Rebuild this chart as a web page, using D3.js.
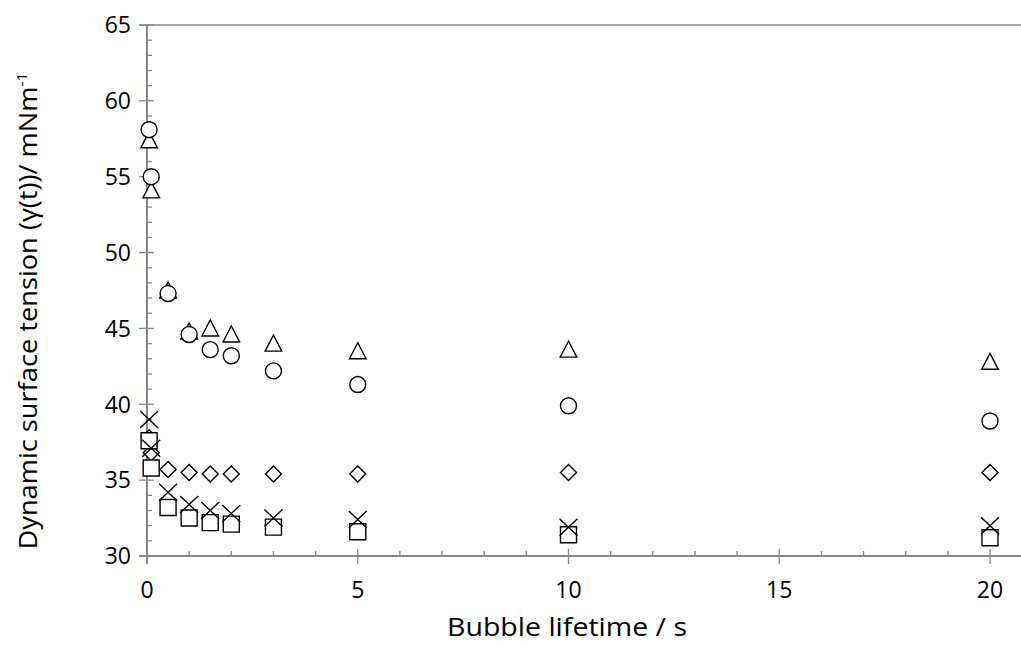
<!DOCTYPE html>
<html>
<head>
<meta charset="utf-8">
<script src="https://cdn.jsdelivr.net/npm/d3@7"></script>
<style>
  body { margin: 0; background: #fff; }
  svg { display: block; }
  text { font-family: "Open Sans", sans-serif; fill: #000; }
</style>
</head>
<body>
<svg width="1021" height="647"></svg>
<script>
// bubble lifetime (s) for each measurement
var times = [0.05, 0.1, 0.5, 1, 1.5, 2, 3, 5, 10, 20];

// surface tension, one array per marker type
var diamondVals  = [37.8, 36.8, 35.7, 35.5, 35.4, 35.4, 35.4, 35.4, 35.5, 35.5];
var squareVals   = [37.6, 35.8, 33.2, 32.5, 32.2, 32.1, 31.9, 31.6, 31.4, 31.2];
var triangleVals = [57.4, 54.1, 47.5, 44.8, 45.0, 44.6, 44.0, 43.5, 43.6, 42.8];
var crossVals    = [39.0, 37.1, 34.2, 33.4, 33.0, 32.8, 32.5, 32.4, 31.9, 32.0];
var circleVals   = [58.1, 55.0, 47.3, 44.6, 43.6, 43.2, 42.2, 41.3, 39.9, 38.9];

var xTicks = [0, 5, 10, 15, 20];
var yTicks = [30, 35, 40, 45, 50, 55, 60, 65];

var series = [
  {shape: "diamond", values: diamondVals},
  {shape: "square", values: squareVals},
  {shape: "triangle", values: triangleVals},
  {shape: "cross", values: crossVals},
  {shape: "circle", values: circleVals}
];

var svg = d3.select("svg"),
    W = +svg.attr("width"),
    axisColor = "#868686";

var x = d3.scaleLinear().domain([0, 20]).range([147, 990]);
var y = d3.scaleLinear().domain([30, 65]).range([556, 25]);

// minor ticks every 1 unit (inside), major ticks cross the axis
var gx = svg.append("g");
gx.selectAll("line.minor")
  .data(d3.range(0, 21).filter(v => v % 5 !== 0))
  .enter().append("line")
    .attr("x1", d => x(d)).attr("x2", d => x(d))
    .attr("y1", y(30)).attr("y2", y(30) - 5)
    .attr("stroke", axisColor).attr("stroke-width", 1.3);
gx.selectAll("line.major")
  .data(xTicks)
  .enter().append("line")
    .attr("x1", d => x(d)).attr("x2", d => x(d))
    .attr("y1", y(30) - 7).attr("y2", y(30) + 8)
    .attr("stroke", axisColor).attr("stroke-width", 1.3);
gx.append("line")
  .attr("x1", x(0) - 8).attr("x2", W)
  .attr("y1", y(30)).attr("y2", y(30))
  .attr("stroke", axisColor).attr("stroke-width", 2);
gx.selectAll("text")
  .data(xTicks)
  .enter().append("text")
    .attr("x", d => x(d))
    .attr("y", 598)
    .attr("text-anchor", "middle")
    .attr("font-size", 23)
    .text(d => d);

var gy = svg.append("g");
gy.selectAll("line.minor")
  .data(d3.range(30, 66).filter(v => v % 5 !== 0))
  .enter().append("line")
    .attr("x1", x(0)).attr("x2", x(0) + 5)
    .attr("y1", d => y(d)).attr("y2", d => y(d))
    .attr("stroke", axisColor).attr("stroke-width", 1.3);
gy.selectAll("line.major")
  .data(yTicks)
  .enter().append("line")
    .attr("x1", x(0) - 8).attr("x2", x(0) + 7)
    .attr("y1", d => y(d)).attr("y2", d => y(d))
    .attr("stroke", axisColor).attr("stroke-width", 1.3);
gy.append("line")
  .attr("x1", x(0)).attr("x2", x(0))
  .attr("y1", y(65)).attr("y2", y(30) + 8)
  .attr("stroke", axisColor).attr("stroke-width", 2);
// top border line at 65
gy.append("line")
  .attr("x1", x(0) - 8).attr("x2", W)
  .attr("y1", y(65)).attr("y2", y(65))
  .attr("stroke", axisColor).attr("stroke-width", 1.3);
gy.selectAll("text")
  .data(yTicks)
  .enter().append("text")
    .attr("x", 131)
    .attr("y", d => y(d))
    .attr("dy", "0.36em")
    .attr("text-anchor", "end")
    .attr("font-size", 23)
    .text(d => d);

// markers
function markerPath(shape) {
  switch (shape) {
    case "circle": return "M8,0A8,8 0 1,1 -8,0A8,8 0 1,1 8,0Z";
    case "square": return "M-8,-8H8V8H-8Z";
    case "diamond": return "M0,-8L8,0L0,8L-8,0Z";
    case "triangle": return "M0,-8.5L8.3,7.5H-8.3Z";
    case "cross": return "M-9,-8.5L9,8.5M9,-8.5L-9,8.5";
  }
}

series.forEach(function(s) {
  svg.append("g").selectAll("path")
    .data(times.map((t, i) => ({t: t, v: s.values[i]})))
    .enter().append("path")
      .attr("transform", d => "translate(" + x(d.t) + "," + y(d.v) + ")")
      .attr("d", markerPath(s.shape))
      .attr("fill", s.shape === "cross" ? "none" : "#fff")
      .attr("stroke", "#000")
      .attr("stroke-width", 1.4);
});

// axis titles
svg.append("text")
  .attr("x", 567).attr("y", 636)
  .attr("text-anchor", "middle")
  .attr("font-size", 25)
  .attr("textLength", 240)
  .attr("lengthAdjust", "spacingAndGlyphs")
  .text("Bubble lifetime / s");

var yt = svg.append("text")
  .attr("transform", "translate(37,311) rotate(-90)")
  .attr("text-anchor", "middle")
  .attr("font-size", 26)
  .attr("textLength", 477)
  .attr("lengthAdjust", "spacingAndGlyphs");
yt.append("tspan").text("Dynamic surface tension (γ(t))/ mNm");
yt.append("tspan").attr("dy", -10).attr("font-size", 15).text("-1");
</script>
</body>
</html>
